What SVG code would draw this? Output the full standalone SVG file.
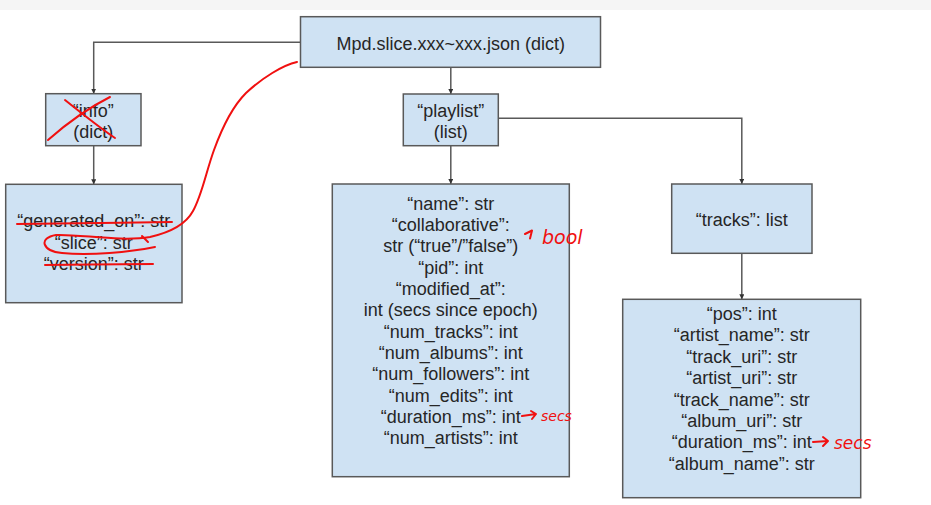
<svg xmlns="http://www.w3.org/2000/svg" width="931" height="505" viewBox="0 0 931 505">
<defs>
<style>
.box{fill:#cfe2f3;stroke:#595959;stroke-width:1.5}
.t{font-family:"Liberation Sans",Arial,sans-serif;font-size:18px;fill:#262626;text-anchor:middle}
.c{fill:none;stroke:#595959;stroke-width:1.5}
.red{fill:none;stroke:#f01010;stroke-width:2;stroke-linecap:round;stroke-linejoin:round}
.rt{font-family:"DejaVu Sans",sans-serif;font-style:oblique;fill:#f01010}
</style>
<marker id="ah" viewBox="0 0 8 8" refX="8" refY="4" markerWidth="5" markerHeight="5" markerUnits="userSpaceOnUse" orient="auto">
<path d="M0,0 L8,4 L0,8 Z" fill="#333"/>
</marker>
</defs>
<rect x="0" y="0" width="931" height="505" fill="#ffffff"/>
<rect x="0" y="0" width="931" height="10" fill="#f5f5f5"/>

<g id="connectors">
<path class="c" d="M300.5,42.3 H93.7 V93.7" marker-end="url(#ah)"/>
<path class="c" d="M93.7,145.7 V184.3" marker-end="url(#ah)"/>
<path class="c" d="M450.8,67.3 V94" marker-end="url(#ah)"/>
<path class="c" d="M498.3,118.3 H741.8 V184" marker-end="url(#ah)"/>
<path class="c" d="M450.8,145.7 V184" marker-end="url(#ah)"/>
<path class="c" d="M741.8,253.3 V299.3" marker-end="url(#ah)"/>
</g>

<g id="root">
<rect class="box" x="300.5" y="16.7" width="300" height="50.6"/>
<text class="t" x="450.8" y="49.5">Mpd.slice.xxx~xxx.json (dict)</text>
</g>

<g id="info">
<rect class="box" x="45.7" y="93.7" width="95.3" height="52"/>
<text class="t" x="93.3" y="116.5">“info”</text>
<text class="t" x="93.3" y="138">(dict)</text>
</g>

<g id="info-fields">
<rect class="box" x="5.7" y="184.3" width="176.3" height="118.4"/>
<text class="t" x="93.8" y="227">“generated_on”: str</text>
<text class="t" x="93.8" y="248.5">“slice”: str</text>
<text class="t" x="93.8" y="270">“version”: str</text>
</g>

<g id="playlist">
<rect class="box" x="403.3" y="94" width="95" height="51.7"/>
<text class="t" x="450.8" y="116.5">“playlist”</text>
<text class="t" x="450.8" y="138">(list)</text>
</g>

<g id="playlist-fields">
<rect class="box" x="332.3" y="184" width="237" height="292.7"/>
<text class="t" x="450.8" y="209.5">“name”: str</text>
<text class="t" x="450.8" y="230.9">“collaborative”:</text>
<text class="t" x="450.8" y="252.2">str (“true”/”false”)</text>
<text class="t" x="450.8" y="273.6">“pid”: int</text>
<text class="t" x="450.8" y="294.9">“modified_at”:</text>
<text class="t" x="450.8" y="316.3">int (secs since epoch)</text>
<text class="t" x="450.8" y="337.6">“num_tracks”: int</text>
<text class="t" x="450.8" y="359">“num_albums”: int</text>
<text class="t" x="450.8" y="380.3">“num_followers”: int</text>
<text class="t" x="450.8" y="401.7">“num_edits”: int</text>
<text class="t" x="450.8" y="423">“duration_ms”: int</text>
<text class="t" x="450.8" y="444.4">“num_artists”: int</text>
</g>

<g id="tracks">
<rect class="box" x="671.7" y="184" width="140.3" height="69.3"/>
<text class="t" x="741.8" y="225.5">“tracks”: list</text>
</g>

<g id="track-fields">
<rect class="box" x="622.7" y="299.3" width="238" height="198.4"/>
<text class="t" x="741.7" y="319.8">“pos”: int</text>
<text class="t" x="741.7" y="341.2">“artist_name”: str</text>
<text class="t" x="741.7" y="362.7">“track_uri”: str</text>
<text class="t" x="741.7" y="384.1">“artist_uri”: str</text>
<text class="t" x="741.7" y="405.5">“track_name”: str</text>
<text class="t" x="741.7" y="427">“album_uri”: str</text>
<text class="t" x="741.7" y="448.4">“duration_ms”: int</text>
<text class="t" x="741.7" y="469.8">“album_name”: str</text>
</g>

<g id="annotations">
<path class="red" d="M65,100 C80,112 100,128 115,138"/>
<path class="red" d="M48,140 C65,125 88,108 110,97"/>
<path class="red" d="M17,224 C60,223 120,223 172,222"/>
<path class="red" d="M45,265 C80,265 120,264 153,264"/>
<path class="red" d="M297,62 C283,65 262,78 246,93 C232,107 222,128 214,150 C206,172 202,195 193,211 C186,224 172,232 150,237 C120,242 80,234 56,235 C38,238 42,251 62,253 C90,256 130,252 155,247"/>
<path class="red" d="M142,236 L148,242"/>
<path class="red" d="M525,234 L532,230.5 L530,238.5"/>
<text class="rt" x="542" y="244" font-size="19">bool</text>
<path class="red" d="M522,416 L536,414 M531,411 L536,414 L532,419"/>
<text class="rt" x="541" y="421" font-size="14">secs</text>
<path class="red" d="M813,442 L828,441 M823,437 L828,441 L823,446"/>
<text class="rt" x="834" y="449" font-size="17">secs</text>
</g>
</svg>
